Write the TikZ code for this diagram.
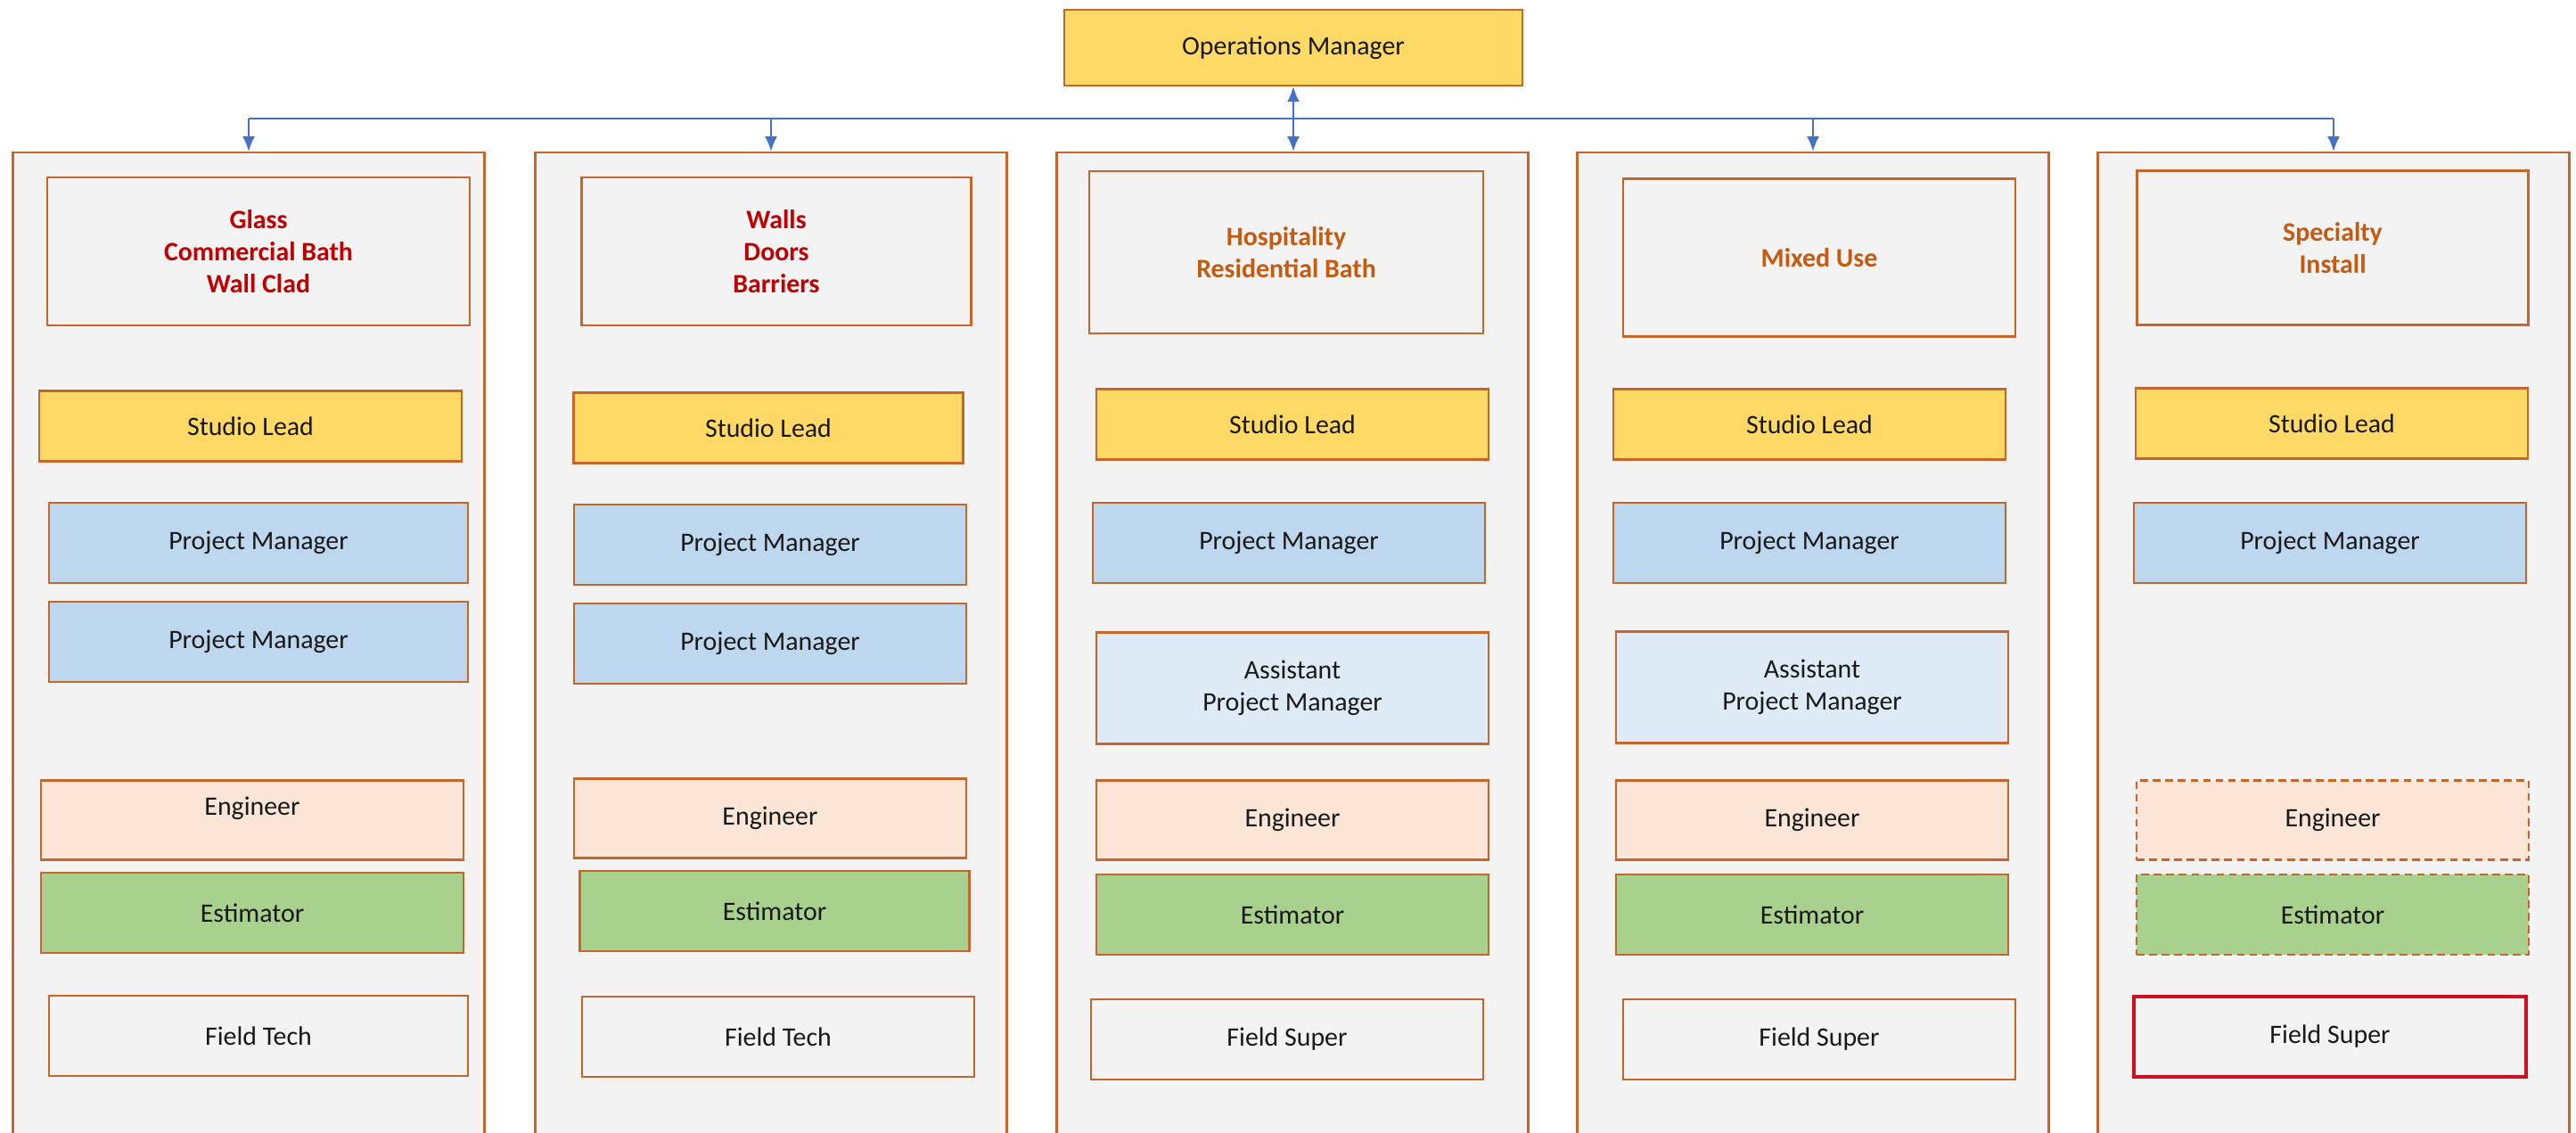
\documentclass[tikz,border=0pt]{standalone}
\usepackage{fontspec}
\setmainfont{Carlito}
\usetikzlibrary{arrows.meta}
\definecolor{edge}{HTML}{C8652A}
\definecolor{panelgray}{HTML}{F3F3F4}
\definecolor{leadyellow}{HTML}{FFD966}
\definecolor{pmblue}{HTML}{BDD7EE}
\definecolor{apmblue}{HTML}{DEEBF7}
\definecolor{engpeach}{HTML}{FBE5D6}
\definecolor{estgreen}{HTML}{A9D18E}
\definecolor{linkblue}{HTML}{4472C4}
\definecolor{titlered}{HTML}{C00000}
\definecolor{titleorange}{HTML}{C55A11}
\definecolor{superred}{HTML}{D0101E}
\begin{document}
\begin{tikzpicture}[every node/.style={font=\fontsize{8.5}{10.2}\selectfont,inner sep=0pt,text=black!90},
  box/.style={draw=edge,line width=0.7pt,minimum width=4.40cm,minimum height=0.90cm,align=center},
  panel/.style={draw=edge,line width=0.7pt,fill=panelgray,anchor=north,minimum width=5.29cm,minimum height=11.6cm},
  head/.style={box,fill=panelgray,font=\fontsize{8.5}{10.2}\selectfont\bfseries},
  lead/.style={box,fill=leadyellow,minimum height=0.79cm},
  pm/.style={box,fill=pmblue},
  apm/.style={box,fill=apmblue,minimum height=1.25cm},
  eng/.style={box,fill=engpeach,minimum height=0.89cm},
  est/.style={box,fill=estgreen},
  field/.style={box,fill=panelgray},
  maybe/.style={dashed,dash pattern=on 2.5pt off 1.5pt},
  link/.style={draw=linkblue,line width=0.6pt},
  arr/.style={link,-{Latex[length=1.7mm,width=1.4mm]}}]
  \path[use as bounding box,clip] (0,0) rectangle (28.9,-12.71);
  % top
  \node[lead,minimum width=5.14cm,minimum height=0.85cm] (ops) at (14.51,-0.535) {Operations Manager};
  \coordinate (bus) at (0,-1.327);
  % studio panels
  \node[panel] (p1) at (2.79,-1.70) {};
  \node[panel] (p2) at (8.65,-1.70) {};
  \node[panel] (p3) at (14.50,-1.70) {};
  \node[panel] (p4) at (20.34,-1.70) {};
  \node[panel] (p5) at (26.18,-1.70) {};
  % links
  \draw[link] (bus -| p1.north) -- (bus -| p5.north);
  \draw[arr] (bus -| p1.north) -- (p1.north);
  \draw[arr] (bus -| p2.north) -- (p2.north);
  \draw[arr] (bus -| p4.north) -- (p4.north);
  \draw[arr] (bus -| p5.north) -- (p5.north);
  \draw[arr,{Latex[length=1.7mm,width=1.4mm]}-{Latex[length=1.7mm,width=1.4mm]}] (ops.south) -- (ops.south |- p3.north);
  % headers
  \node[head,text=titlered,minimum width=4.74cm,minimum height=1.66cm] (h1) at (2.90,-2.82) {Glass\\Commercial Bath\\Wall Clad};
  \node[head,text=titlered,minimum width=4.37cm,minimum height=1.66cm] (h2) at (8.71,-2.82) {Walls\\Doors\\Barriers};
  \node[head,text=titleorange,minimum width=4.42cm,minimum height=1.82cm] (h3) at (14.43,-2.83) {Hospitality\\Residential Bath};
  \node[head,text=titleorange,minimum height=1.77cm] (h4) at (20.41,-2.89) {Mixed Use};
  \node[head,text=titleorange,minimum width=4.39cm,minimum height=1.73cm] (h5) at (26.17,-2.78) {Specialty\\Install};
  % studio leads
  \node[lead,minimum width=4.74cm] (l1) at (2.81,-4.78) {Studio Lead};
  \node[lead,minimum width=4.37cm] (l2) at (8.62,-4.80) {Studio Lead};
  \node[lead] (l3) at (14.50,-4.76) {Studio Lead};
  \node[lead] (l4) at (20.30,-4.76) {Studio Lead};
  \node[lead] (l5) at (26.16,-4.75) {Studio Lead};
  % project managers
  \node[pm,minimum width=4.70cm] (pm1a) at (2.90,-6.09) {Project Manager};
  \node[pm,minimum width=4.70cm] (pm1b) at (2.90,-7.20) {Project Manager};
  \node[pm] (pm2a) at (8.64,-6.11) {Project Manager};
  \node[pm] (pm2b) at (8.64,-7.22) {Project Manager};
  \node[pm] (pm3) at (14.46,-6.09) {Project Manager};
  \node[pm] (pm4) at (20.30,-6.09) {Project Manager};
  \node[pm] (pm5) at (26.14,-6.09) {Project Manager};
  \node[apm] (apm3) at (14.50,-7.72) {Assistant\\Project Manager};
  \node[apm] (apm4) at (20.33,-7.71) {Assistant\\Project Manager};
  % engineers + estimators
  \node[eng,minimum width=4.74cm,text depth=0.31cm] (e1) at (2.83,-9.20) {Engineer};
  \node[eng] (e2) at (8.64,-9.18) {Engineer};
  \node[eng] (e3) at (14.50,-9.20) {Engineer};
  \node[eng] (e4) at (20.33,-9.20) {Engineer};
  \node[eng,maybe] (e5) at (26.17,-9.20) {Engineer};
  \node[est,minimum width=4.74cm] (s1) at (2.83,-10.24) {Estimator};
  \node[est,minimum width=4.37cm] (s2) at (8.69,-10.22) {Estimator};
  \node[est] (s3) at (14.50,-10.26) {Estimator};
  \node[est] (s4) at (20.33,-10.26) {Estimator};
  \node[est,maybe] (s5) at (26.17,-10.26) {Estimator};
  % field
  \node[field,minimum width=4.70cm] (f1) at (2.90,-11.62) {Field Tech};
  \node[field] (f2) at (8.73,-11.63) {Field Tech};
  \node[field] (f3) at (14.44,-11.66) {Field Super};
  \node[field] (f4) at (20.41,-11.66) {Field Super};
  \node[field,draw=superred,line width=0.9pt] (f5) at (26.14,-11.63) {Field Super};
\end{tikzpicture}
\end{document}
